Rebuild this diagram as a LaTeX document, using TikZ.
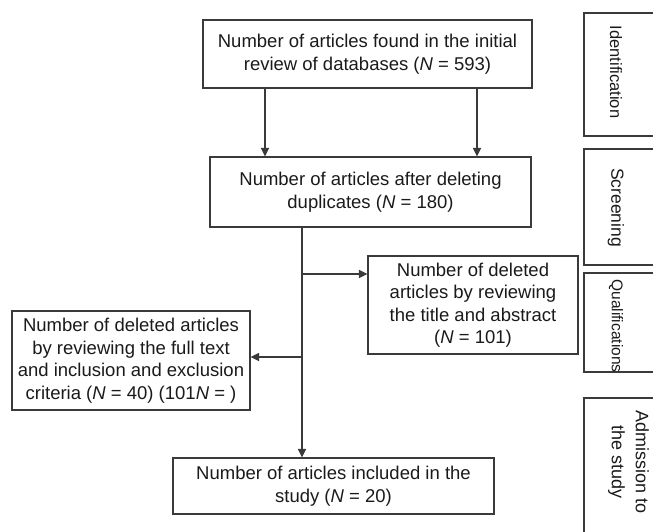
\documentclass[tikz,border=0pt]{standalone}
\usepackage{fontspec}
\setmainfont{Liberation Sans}
\usetikzlibrary{arrows.meta}
\definecolor{linegrey}{HTML}{3A3A3A}
\definecolor{inktext}{HTML}{1A1A1A}
\tikzset{
  flowbox/.style={draw=linegrey, line width=1.1pt, rectangle, align=center,
    inner sep=0pt, text=inktext, font=\fontsize{18.5}{22.5}\selectfont},
  sidebox/.style={draw=linegrey, line width=1.1pt, rectangle, inner sep=0pt},
  sidelabel/.style={rotate=-90, align=center, text=inktext, inner sep=0pt},
  arr/.style={draw=linegrey, line width=1.1pt, -{Triangle[length=8.5pt,width=8pt]}}
}
\begin{document}
\begin{tikzpicture}[x=1pt, y=-1pt]
\useasboundingbox (0,0) rectangle (653,532);

% main flow boxes
\node[flowbox, minimum width=329pt, minimum height=68pt] (found) at (367.5,54)
  {Number of articles found in the initial\\review of databases (\textit{N} = 593)};
\node[flowbox, minimum width=321pt, minimum height=70pt] (dedup) at (370.5,192)
  {Number of articles after deleting\\duplicates (\textit{N} = 180)};
\node[flowbox, minimum width=210pt, minimum height=98pt] (title) at (473,305)
  {Number of deleted\\articles by reviewing\\the title and abstract\\(\textit{N} = 101)};
\node[flowbox, minimum width=238pt, minimum height=99pt] (fulltext) at (131,360.5)
  {Number of deleted articles\\by reviewing the full text\\and inclusion and exclusion\\criteria (\textit{N} = 40) (101\textit{N} = )};
\node[flowbox, minimum width=321pt, minimum height=56pt] (included) at (333.5,486)
  {Number of articles included in the\\study (\textit{N} = 20)};

% stage boxes running off the right edge
\node[sidebox, minimum width=76pt, minimum height=123pt] (sid) at (622,74.5) {};
\node[sidebox, minimum width=76pt, minimum height=116pt] (ssc) at (622,207) {};
\node[sidebox, minimum width=76pt, minimum height=99pt] (squ) at (622,322.5) {};
\node[sidebox, minimum width=76pt, minimum height=146pt] (sad) at (622,471) {};
\node[sidelabel, font=\fontsize{16.5}{18}\selectfont] (lid) at (616,72) {Identification};
\node[sidelabel, font=\fontsize{17.5}{20}\selectfont] (lsc) at (616,207.5) {Screening};
\node[sidelabel, font=\fontsize{15.5}{18}\selectfont] (lqu) at (616,326) {Qualifications};
\node[sidelabel, font=\fontsize{18}{24}\selectfont] (lad) at (628.5,462) {Admission to\\the study};

% connector positions
\coordinate (leftdrop) at (265,0);
\coordinate (rightdrop) at (477,0);
\coordinate (trunk) at (302,0);
\coordinate (branchA) at (302,274);
\coordinate (branchB) at (302,357);

\draw[arr] (found.south -| leftdrop) -- (dedup.north -| leftdrop);
\draw[arr] (found.south -| rightdrop) -- (dedup.north -| rightdrop);
\draw[arr] (dedup.south -| trunk) -- (included.north -| trunk);
\draw[arr] (branchA) -- (branchA -| title.west);
\draw[arr] (branchB) -- (branchB -| fulltext.east);
\end{tikzpicture}
\end{document}
